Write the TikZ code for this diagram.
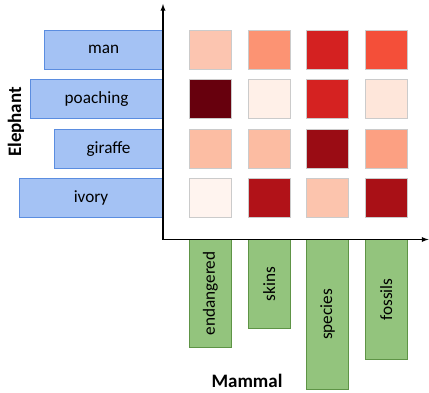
\documentclass[tikz,border=0pt]{standalone}
\usepackage{fontspec}
\setmainfont{Carlito}
\usepackage{tikz}
\usetikzlibrary{math}

\definecolor{eleblue}{HTML}{A4C2F4}
\definecolor{eleedge}{HTML}{5B8DE0}
\definecolor{mamgreen}{HTML}{93C47D}
\definecolor{mamedge}{HTML}{5E9446}
\definecolor{celledge}{HTML}{CBCBCB}
% heat map shades, row then column
\definecolor{heat00}{HTML}{FCC5B0}
\definecolor{heat01}{HTML}{FC9373}
\definecolor{heat02}{HTML}{D42121}
\definecolor{heat03}{HTML}{F44F39}
\definecolor{heat10}{HTML}{67000D}
\definecolor{heat11}{HTML}{FFF0E8}
\definecolor{heat12}{HTML}{D52221}
\definecolor{heat13}{HTML}{FEE6DA}
\definecolor{heat20}{HTML}{FCBDA3}
\definecolor{heat21}{HTML}{FCBCA2}
\definecolor{heat22}{HTML}{9A0C14}
\definecolor{heat23}{HTML}{FCA082}
\definecolor{heat30}{HTML}{FFF4EF}
\definecolor{heat31}{HTML}{B11218}
\definecolor{heat32}{HTML}{FCC4AD}
\definecolor{heat33}{HTML}{A91016}

\tikzset{
    elebar/.style={draw=eleedge, fill=eleblue, line width=0.9pt, inner sep=0pt,
            minimum height=39pt, font=\fontsize{17.2}{19}\selectfont},
    mambar/.style={draw=mamedge, fill=mamgreen, line width=0.9pt, inner sep=0pt,
            minimum height=42pt, rotate=90, font=\fontsize{17.2}{19}\selectfont},
    heatcell/.style={draw=celledge, line width=0.9pt, inner sep=0pt,
            minimum width=42pt, minimum height=39pt},
    axisline/.style={line width=1.3pt, latex-latex},
    axistitle/.style={font=\bfseries\fontsize{19}{21}\selectfont},
}

\begin{document}
\begin{tikzpicture}[x=1pt, y=-1pt]
    \tikzmath{%
        \axisx=163;
        \axisy=239.5;
        \colzero=210.5;
        \colstep=58.6;
        \rowzero=49.5;
        \rowstep=49.6;
    };
    \useasboundingbox (0, 0) rectangle (429, 393);

    % elephant words
    \foreach \name/\left/\row in {man/45/0, poaching/31/1, giraffe/55/2, ivory/20/3} {%
            \node [elebar, anchor=east, minimum width={\axisx-\left}] (\name) at (\axisx, \rowzero+\row*\rowstep) {\name};
        }

    % heat map
    \foreach \row in {0, ..., 3} {%
            \foreach \col in {0, ..., 3} {%
                    \node [heatcell, fill=heat\row\col] (cell\row\col) at (\colzero+\col*\colstep, \rowzero+\row*\rowstep) {};
                }
        }

    % mammal words
    \foreach \name/\len/\col in {endangered/107/0, skins/88/1, species/149/2, fossils/119/3} {%
            \node [mambar, anchor=east, minimum width=\len] (\name) at (\colzero+\col*\colstep, \axisy) {\name};
        }

    % axes
    \coordinate (ytip) at (\axisx, 4);
    \coordinate (xtip) at (428.5, \axisy);
    \draw [axisline] (ytip) |- (xtip);

    \node [axistitle, rotate=90] (elephant) at (16, 122) {Elephant};
    \node [axistitle] (mammal) at (247, 381) {Mammal};

\end{tikzpicture}
\end{document}
